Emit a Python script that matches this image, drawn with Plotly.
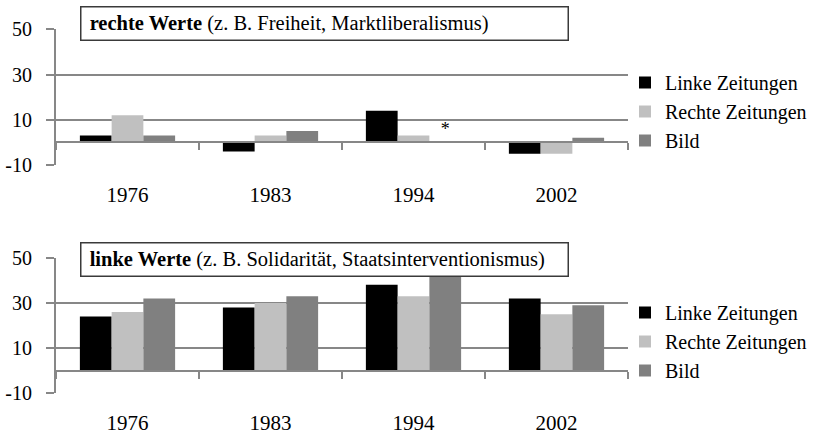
import plotly.graph_objects as go

# ---- data ----
years = ["1976", "1983", "1994", "2002"]
series_names = ["Linke Zeitungen", "Rechte Zeitungen", "Bild"]
series_colors = ["#000000", "#c0c0c0", "#808080"]

rechte_linke = [3, -4, 14, -5]
rechte_rechte = [12, 3, 3, -5]
rechte_bild = [3, 5, 0, 2]
rechte_bild_notes = ["", "", "*", ""]

linke_linke = [24, 28, 38, 32]
linke_rechte = [26, 30, 33, 25]
linke_bild = [32, 33, 44, 29]

y_ticks = [-10, 10, 30, 50]
y_tick_labels = ["-10", "10", "30", "50"]
y_range = [-10, 50.02]
title_top = "<b>rechte Werte</b> (z. B. Freiheit, Marktliberalismus)"
title_bottom = "<b>linke Werte</b> (z. B. Solidarität, Staatsinterventionismus)"

# ---- layout helpers ----
W, H = 819, 437
FONT = "Liberation Serif"
GRID = "#878787"


def py(px):
    return 1 - px / H


x_dom = [56 / W, 628 / W]
top_dom = [py(165), py(29.3)]
bot_dom = [py(393.3), py(257.7)]


def zero_pos(dom):
    return dom[0] + (0 - y_range[0]) / (y_range[1] - y_range[0]) * (dom[1] - dom[0])


fig = go.Figure()

top_vals = [rechte_linke, rechte_rechte, rechte_bild]
bot_vals = [linke_linke, linke_rechte, linke_bild]

for i, (name, col) in enumerate(zip(series_names, series_colors)):
    kw = {}
    if i == 2:
        kw = dict(text=rechte_bild_notes, textposition="outside",
                  textfont=dict(family=FONT, size=18, color="#000000"),
                  cliponaxis=False)
    fig.add_trace(go.Bar(x=years, y=top_vals[i], name=name, marker_color=col,
                         marker_line_width=0, xaxis="x", yaxis="y",
                         legend="legend", **kw))
for i, (name, col) in enumerate(zip(series_names, series_colors)):
    fig.add_trace(go.Bar(x=years, y=bot_vals[i], name=name, marker_color=col,
                         marker_line_width=0, xaxis="x2", yaxis="y2",
                         legend="legend2"))

xcommon = dict(type="category", range=[-0.5, 3.5], showline=True, linecolor=GRID,
               linewidth=2, ticks="outside", tickson="boundaries", ticklen=7,
               tickwidth=2, tickcolor=GRID, showgrid=False, zeroline=False,
               ticklabelstandoff=33, tickfont=dict(family=FONT, size=21, color="#000000"),
               anchor="free", domain=x_dom, automargin=False)
ycommon = dict(range=y_range, tickvals=y_ticks, ticktext=y_tick_labels,
               showgrid=True, gridcolor=GRID,
               gridwidth=2, zeroline=False, showline=True, linecolor=GRID,
               linewidth=2, ticks="outside", ticklen=8, tickwidth=2, tickcolor=GRID,
               ticklabelstandoff=10, automargin=False,
               tickfont=dict(family=FONT, size=20, color="#000000"))

fig.update_layout(
    width=W, height=H, margin=dict(l=0, r=0, t=0, b=0, autoexpand=False),
    paper_bgcolor="white", plot_bgcolor="white",
    barmode="group", bargap=0.334, bargroupgap=0,
    font=dict(family=FONT, color="#000000"),
    xaxis=dict(**xcommon, position=zero_pos(top_dom)),
    yaxis=dict(**ycommon, domain=top_dom, anchor="x"),
    xaxis2=dict(**xcommon, position=zero_pos(bot_dom)),
    yaxis2=dict(**ycommon, domain=bot_dom, anchor="x2"),
    legend=dict(x=625 / W, xanchor="left", y=py(63), yanchor="top",
                font=dict(family=FONT, size=20, color="#000000"),
                bgcolor="rgba(0,0,0,0)", tracegroupgap=0),
    legend2=dict(x=625 / W, xanchor="left", y=py(293), yanchor="top",
                 font=dict(family=FONT, size=20, color="#000000"),
                 bgcolor="rgba(0,0,0,0)", tracegroupgap=0),
    showlegend=True,
)

for title, top_px in [(title_top, 6), (title_bottom, 241.7)]:
    fig.add_annotation(
        xref="paper", yref="paper", x=80 / W, xanchor="left",
        y=py(top_px), yanchor="top", text="\u00a0" + title, showarrow=False,
        align="left", valign="middle", width=480, height=26,
        bgcolor="white", bordercolor="#3a3a3a", borderwidth=1.5, borderpad=3,
        font=dict(family=FONT, size=20.5, color="#000000"),
    )

fig.write_html(
    "out.html",
    config={"displayModeBar": False},
    post_script="document.body.style.margin='0';document.body.style.overflow='hidden';",
)
